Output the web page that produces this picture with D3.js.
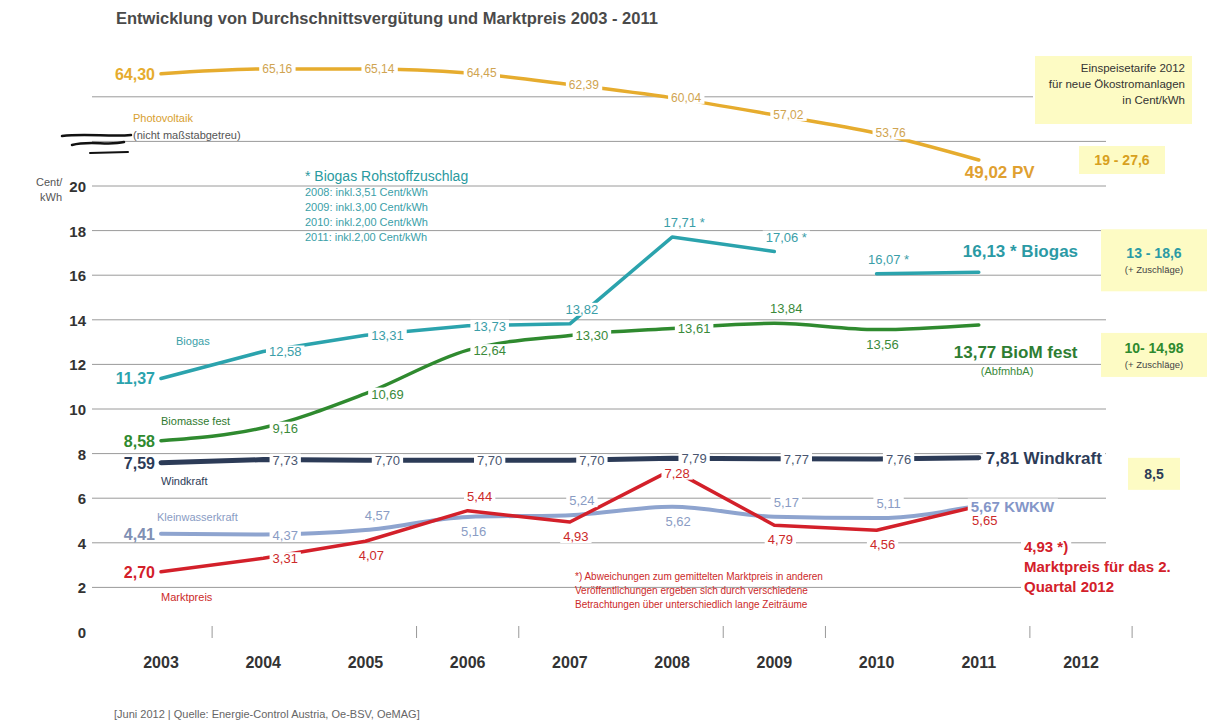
<!DOCTYPE html>
<html>
<head>
<meta charset="utf-8">
<script src="https://cdn.jsdelivr.net/npm/d3@7"></script>
<style>
  body { margin: 0; background: #fff; }
  svg { display: block; font-family: "Liberation Sans", Arial, sans-serif; }
</style>
</head>
<body>
<svg id="chart"></svg>
<script>
// data
const years = [2003, 2004, 2005, 2006, 2007, 2008, 2009, 2010, 2011];
const axisYears = [2003, 2004, 2005, 2006, 2007, 2008, 2009, 2010, 2011, 2012];
const pv = [64.30, 65.16, 65.14, 64.45, 62.39, 60.04, 57.02, 53.76, 49.02];
const biogas = [11.37, 12.58, 13.31, 13.73, 13.82, 17.71, 17.06, 16.07, 16.13];
const biomasse = [8.58, 9.16, 10.69, 12.64, 13.30, 13.61, 13.84, 13.56, 13.77];
const wind = [7.59, 7.73, 7.70, 7.70, 7.70, 7.79, 7.77, 7.76, 7.81];
const kwkw = [4.41, 4.37, 4.57, 5.16, 5.24, 5.62, 5.17, 5.11, 5.67];
const marktpreis = [2.70, 3.31, 4.07, 5.44, 4.93, 7.28, 4.79, 4.56, 5.65];
const marktpreisQ2_2012 = 4.93;
const yTicks = [0, 2, 4, 6, 8, 10, 12, 14, 16, 18, 20];
const gridValues = [2, 4, 6, 8, 10, 12, 14, 16, 18, 20, 22, 24];
const tickBreaks = [2003.5, 2005.5, 2006.5, 2008.5, 2009.5, 2011.5, 2012.5];
const tariffs2012 = ['19 - 27,6', '13 - 18,6', '10- 14,98', '8,5'];
const biogasNotes = ['2008: inkl.3,51 Cent/kWh', '2009: inkl.3,00 Cent/kWh', '2010: inkl.2,00 Cent/kWh', '2011: inkl.2,00 Cent/kWh'];
const footnote = ['*) Abweichungen zum gemittelten Marktpreis in anderen', 'Veröffentlichungen ergeben sich durch verschiedene', 'Betrachtungen über unterschiedlich lange Zeiträume'];

const W = 1209, H = 727;
const svg = d3.select('#chart').attr('width', W).attr('height', H);

const x = d3.scaleLinear().domain([2003, 2012]).range([161, 1081]);
const y = d3.scaleLinear().domain([0, 20]).range([632, 186]);
const yPV = d3.scaleLinear().domain([49.02, 65.16]).range([160, 69]); // nicht maßstabgetreu

const fmt = v => d3.format('.2f')(v).replace('.', ',');

// title
svg.append('text').attr('x', 116).attr('y', 24)
    .attr('font-size', 16.5).attr('font-weight', 'bold').attr('fill', '#4a4a4a')
    .text('Entwicklung von Durchschnittsvergütung und Marktpreis 2003 - 2011');

// gridlines
svg.append('g').selectAll('line').data(gridValues).join('line')
    .attr('x1', x(2003) - 69)
    .attr('x2', d => d === 24 ? x(2012) - 48 : x(2012) + 25)
    .attr('y1', d => y(d)).attr('y2', d => y(d))
    .attr('stroke', '#9a9a9a').attr('stroke-width', 1);

// y axis labels
svg.append('g').selectAll('text').data(yTicks).join('text')
    .attr('x', 86).attr('y', d => y(d) + 6)
    .attr('text-anchor', 'end').attr('font-size', 15).attr('font-weight', 'bold').attr('fill', '#333')
    .text(d => d);
svg.append('text').attr('x', 36).attr('y', y(20)).attr('font-size', 11).attr('fill', '#555').text('Cent/');
svg.append('text').attr('x', 40).attr('y', y(20) + 15).attr('font-size', 11).attr('fill', '#555').text('kWh');

// x axis
svg.append('g').selectAll('text').data(axisYears).join('text')
    .attr('x', d => x(d)).attr('y', 668)
    .attr('text-anchor', 'middle').attr('font-size', 16).attr('font-weight', 'bold').attr('fill', '#333')
    .text(d => d);
svg.append('g').selectAll('line').data(tickBreaks).join('line')
    .attr('x1', d => x(d)).attr('x2', d => x(d))
    .attr('y1', y(0) - 6).attr('y2', y(0) + 6)
    .attr('stroke', '#999');

// series
const series = [
    { values: biogas, scale: y, color: '#2ba3ad', text: '#3a9ea8', width: 3.5, curve: d3.curveLinear,
      pos: ['L', 'R', 'R', 'R', 'A', 'A', 'A', 'A', null], star: [5, 6, 7] },
    { values: biomasse, scale: y, color: '#2f8a2f', text: '#3a8a3a', width: 3.5, curve: d3.curveMonotoneX,
      pos: ['L', 'R', 'R', 'R', 'R', 'R', 'A', 'B', null] },
    { values: wind, scale: y, color: '#2c3b57', text: '#4a5670', width: 5, curve: d3.curveLinear,
      pos: ['L', 'R', 'R', 'R', 'R', 'R', 'R', 'R', null] },
    { values: kwkw, scale: y, color: '#8ea4cf', text: '#8a9cc4', width: 4, curve: d3.curveMonotoneX,
      pos: ['L', 'R', 'A', 'B', 'A', 'B', 'A', 'A', null] },
    { values: marktpreis, scale: y, color: '#d3202a', text: '#cc2a2a', width: 3.5, curve: d3.curveLinear,
      pos: ['L', 'R', 'B', 'A', 'B', 'C', 'B', 'B', 'B'] },
    { values: pv, scale: yPV, color: '#e6ac2e', text: '#d0a450', width: 3.5, curve: d3.curveMonotoneX,
      pos: ['L', 'P', 'P', 'P', 'P', 'P', 'P', 'P', null] }
];

const lineGroup = svg.append('g');
const labelGroup = svg.append('g');

function label(txt, lx, ly, o) {
    const t = labelGroup.append('text')
        .attr('x', lx).attr('y', ly)
        .attr('text-anchor', o.anchor || 'middle')
        .attr('font-size', o.size || 13)
        .attr('font-weight', o.bold ? 'bold' : 'normal')
        .attr('fill', o.color)
        .text(txt);
    if (o.bg !== false) {
        const b = t.node().getBBox();
        labelGroup.insert('rect', () => t.node())
            .attr('x', b.x - 3).attr('y', b.y + 1)
            .attr('width', b.width + 6).attr('height', b.height - 2)
            .attr('fill', '#fff');
    }
    return t;
}

series.forEach(s => {
    const pts = s.values.map((v, i) => [x(years[i]), s.scale(v)]);
    const segs = s.values === biogas ? [pts.slice(0, 7), pts.slice(7)] : [pts];
    segs.forEach(seg => {
        lineGroup.append('path')
            .attr('d', d3.line().curve(s.curve)(seg))
            .attr('fill', 'none').attr('stroke', s.color)
            .attr('stroke-width', s.width).attr('stroke-linecap', 'round').attr('stroke-linejoin', 'round');
    });
    s.values.forEach((v, i) => {
        const p = s.pos[i];
        if (!p) return;
        const [px, py] = pts[i];
        const txt = fmt(v) + (s.star && s.star.includes(i) ? ' *' : '');
        if (p === 'L') label(txt, px - 6, py + 6, { anchor: 'end', size: 16, bold: true, color: s.color === '#8ea4cf' ? '#8090b4' : s.color });
        else if (p === 'R') label(txt, px + 22, py + 5, { color: s.text });
        else if (p === 'P') label(txt, px + 14, py + 4, { color: s.text, size: 12 });
        else if (p === 'A') label(txt, px + 12, py - 10, { color: s.text });
        else if (p === 'B') label(txt, px + 6, py + 19, { color: s.text });
        else if (p === 'C') label(txt, px + 5, py + 8, { color: s.text });
    });
});

// end labels 2011
const last = years.length - 1;
const ex = x(years[last]);
label('16,13 * Biogas', ex - 16, y(biogas[last]) - 15, { anchor: 'start', size: 17, bold: true, color: '#2b9aa5' });
label(fmt(biomasse[last]) + ' BioM fest', ex - 25, y(biomasse[last]) + 33, { anchor: 'start', size: 17, bold: true, color: '#2e7d32' });
label('(AbfmhbA)', ex + 2, y(biomasse[last]) + 50, { anchor: 'start', size: 11, color: '#3a8a3a' });
label(fmt(wind[last]) + ' Windkraft', ex + 7, y(wind[last]) + 6, { anchor: 'start', size: 17, bold: true, color: '#2c3b57' });
label(fmt(kwkw[last]) + ' KWKW', ex - 8, y(kwkw[last]) + 6, { anchor: 'start', size: 15, bold: true, color: '#8496c8' });
label(fmt(pv[last]) + ' PV', ex - 14, yPV(pv[last]) + 18, { anchor: 'start', size: 17, bold: true, color: '#e0a030' });

// Marktpreis Q2 2012
const mx = x(2012) - 57, my = y(marktpreisQ2_2012) + 30;
label(fmt(marktpreisQ2_2012) + ' *)', mx, my, { anchor: 'start', size: 15, bold: true, color: '#d3202a' });
label('Marktpreis für das 2.', mx, my + 20, { anchor: 'start', size: 15, bold: true, color: '#d3202a' });
label('Quartal 2012', mx, my + 40, { anchor: 'start', size: 15, bold: true, color: '#d3202a' });

// series names
const nm = (t, tx, ty, c) => svg.append('text').attr('x', tx).attr('y', ty).attr('font-size', 11).attr('fill', c).text(t);
nm('Photovoltaik', x(2003) - 28, 122, '#d8a030');
nm('(nicht maßstabgetreu)', x(2003) - 28, 139, '#555');
nm('Biogas', x(2003) + 15, y(biogas[0]) - 33, '#3aa0a8');
nm('Biomasse fest', x(2003), y(9.3), '#2f7a2f');
nm('Windkraft', x(2003), y(6.6), '#2c3b57');
nm('Kleinwasserkraft', x(2003) - 4, y(5.0), '#8a9cc4');
nm('Marktpreis', x(2003), y(1.4), '#cc2a2a');

// broken scale strokes
const bk = svg.append('g').attr('stroke', '#111').attr('fill', 'none').attr('stroke-linecap', 'round');
bk.append('path').attr('d', 'M62,136 C85,133 110,137 131,135').attr('stroke-width', 2.5);
bk.append('path').attr('d', 'M72,145 C90,140 108,146 124,142').attr('stroke-width', 2.5);
bk.append('path').attr('d', 'M90,153 L128,152').attr('stroke-width', 2);

// biogas note
svg.append('text').attr('x', 305).attr('y', 181).attr('font-size', 14).attr('fill', '#2a9aa0')
    .text('* Biogas  Rohstoffzuschlag');
svg.append('g').selectAll('text').data(biogasNotes).join('text')
    .attr('x', 305).attr('y', (d, i) => 196 + i * 15)
    .attr('font-size', 11).attr('fill', '#3aa0a8').text(d => d);

// footnote
svg.append('g').selectAll('text').data(footnote).join('text')
    .attr('x', 575).attr('y', (d, i) => 580 + i * 14)
    .attr('font-size', 10).attr('fill', '#cc2a2a').text(d => d);

// tariff boxes 2012
const box = (bx, by, bw, bh) => svg.append('rect').attr('x', bx).attr('y', by).attr('width', bw).attr('height', bh).attr('fill', '#fdfbc4');
box(1035, 56, 157, 68);
['Einspeisetarife 2012', 'für neue Ökostromanlagen', 'in Cent/kWh'].forEach((t, i) =>
    svg.append('text').attr('x', 1185).attr('y', 72 + i * 16).attr('text-anchor', 'end')
        .attr('font-size', 11.5).attr('fill', '#333').text(t));

const tb = [
    { t: tariffs2012[0], cy: yPV(pv[last]), w: 86, h: 28, c: '#d8a020', sub: false },
    { t: tariffs2012[1], cy: y(biogas[last]) - 12, w: 106, h: 62, c: '#2b9aa5', sub: true },
    { t: tariffs2012[2], cy: y(biomasse[last]) + 30, w: 106, h: 44, c: '#2e8a2e', sub: true },
    { t: tariffs2012[3], cy: y(wind[last]) + 16, w: 52, h: 32, c: '#2c3b57', sub: false }
];
tb.forEach(b => {
    const bx = 1207 - b.w - (b.w < 60 ? 27 : (b.w < 90 ? 42 : 0));
    box(bx, b.cy - b.h / 2, b.w, b.h);
    svg.append('text').attr('x', bx + b.w / 2).attr('y', b.cy + (b.sub ? -2 : 5))
        .attr('text-anchor', 'middle').attr('font-size', 14).attr('font-weight', 'bold').attr('fill', b.c).text(b.t);
    if (b.sub) svg.append('text').attr('x', bx + b.w / 2).attr('y', b.cy + 13)
        .attr('text-anchor', 'middle').attr('font-size', 9.5).attr('fill', '#444').text('(+ Zuschläge)');
});

// source
svg.append('text').attr('x', 114).attr('y', 718).attr('font-size', 11).attr('fill', '#666')
    .text('[Juni 2012 | Quelle: Energie-Control Austria, Oe-BSV, OeMAG]');
</script>
</body>
</html>
